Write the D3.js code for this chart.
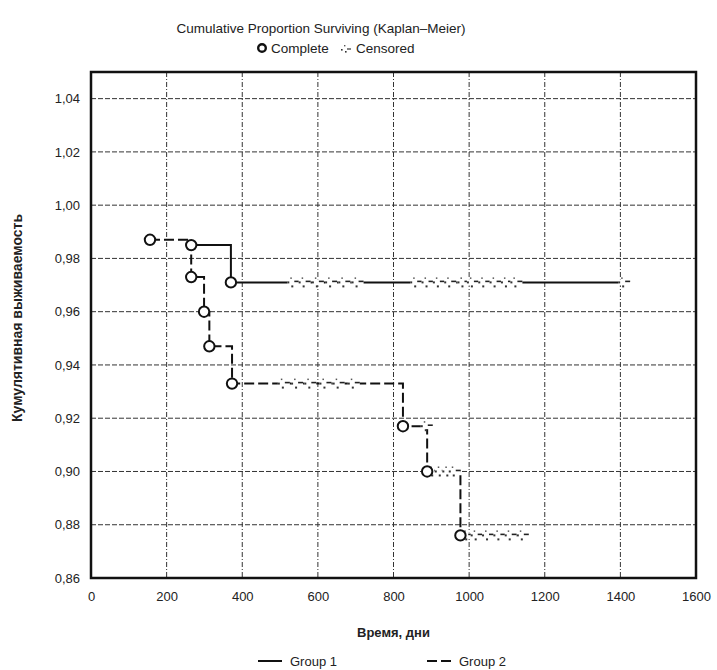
<!DOCTYPE html>
<html>
<head>
<meta charset="utf-8">
<script src="https://cdn.jsdelivr.net/npm/d3@7"></script>
<style>
body{margin:0;background:#fff;}
text{font-family:"Liberation Sans",Arial,sans-serif;fill:#222;}
</style>
</head>
<body>
<div id="chart"></div>
<script>
// x ticks / y ticks
var xTicks = [0, 200, 400, 600, 800, 1000, 1200, 1400, 1600];
var yTicks = [0.86, 0.88, 0.90, 0.92, 0.94, 0.96, 0.98, 1.00, 1.02, 1.04];

// Group 1 (solid)
var g1EventTimes = [265, 370];
var g1Survival = [0.985, 0.971];
var g1EndTime = 1410;
var g1Censored = [535, 565, 600, 635, 670, 705, 860, 890, 920, 950, 985, 1010, 1040, 1070, 1100, 1125, 1410];

// Group 2 (dashed)
var g2EventTimes = [156, 265, 299, 313, 373, 825, 889, 977];
var g2Survival = [0.987, 0.973, 0.960, 0.947, 0.933, 0.917, 0.900, 0.876];
var g2EndTime = 1145;
var g2Censored = [510, 545, 580, 620, 655, 695, 888, 905, 925, 945, 962, 995, 1020, 1050, 1080, 1110, 1142];

var width = 717, height = 670;
var pLeft = 91, pRight = 696, pTop = 72, pBottom = 578;

var svg = d3.select("#chart").append("svg")
    .attr("width", width).attr("height", height);

var x = d3.scaleLinear().domain([0, 1600]).range([pLeft, pRight]);
var y = d3.scaleLinear().domain([0.86, 1.05]).range([pBottom, pTop]);

// gridlines
svg.selectAll(".vgrid").data(xTicks.slice(1, -1)).enter().append("line")
    .attr("x1", d => x(d)).attr("x2", d => x(d))
    .attr("y1", pTop).attr("y2", pBottom)
    .attr("stroke", "#333").attr("stroke-width", 1)
    .attr("stroke-dasharray", "5,2,1,2");
svg.selectAll(".hgrid").data(yTicks.slice(1)).enter().append("line")
    .attr("x1", pLeft).attr("x2", pRight)
    .attr("y1", d => y(d)).attr("y2", d => y(d))
    .attr("stroke", "#333").attr("stroke-width", 1)
    .attr("stroke-dasharray", "5,2");

// axes (labels only, frame drawn below)
var xAxis = d3.axisBottom(x).tickValues(xTicks).tickSize(0).tickPadding(14)
    .tickFormat(d3.format("d"));
svg.append("g").attr("transform", "translate(0," + pBottom + ")").call(xAxis)
    .call(g => g.select(".domain").remove())
    .selectAll("text").style("font-size", "13px").attr("fill", "#222")
    .style("font-family", "Liberation Sans, Arial, sans-serif");

var yAxis = d3.axisLeft(y).tickValues(yTicks).tickSize(0).tickPadding(11)
    .tickFormat(d => d3.format(".2f")(d).replace(".", ","));
svg.append("g").attr("transform", "translate(" + pLeft + ",0)").call(yAxis)
    .call(g => g.select(".domain").remove())
    .selectAll("text").style("font-size", "13px").attr("fill", "#222")
    .style("font-family", "Liberation Sans, Arial, sans-serif");

// step path builder
function stepPoints(times, surv, end){
    var pts = [];
    for (var i = 0; i < times.length; i++){
        if (i > 0) pts.push([times[i], surv[i-1]]);
        pts.push([times[i], surv[i]]);
    }
    pts.push([end, surv[surv.length-1]]);
    return pts;
}
function survAt(times, surv, t){
    var s = surv[0];
    for (var i = 0; i < times.length; i++){ if (times[i] <= t) s = surv[i]; }
    return s;
}

var line = d3.line().x(d => x(d[0])).y(d => y(d[1]));

var groups = [
    {times: g1EventTimes, surv: g1Survival, end: g1EndTime, cens: g1Censored, dash: null},
    {times: g2EventTimes, surv: g2Survival, end: g2EndTime, cens: g2Censored, dash: "10,4"}
];

groups.forEach(function(g){
    svg.append("path")
        .attr("d", line(stepPoints(g.times, g.surv, g.end)))
        .attr("fill", "none").attr("stroke", "#111").attr("stroke-width", 2)
        .attr("stroke-dasharray", g.dash);
});

// censored marks
function censMark(sel, cx, cy){
    var m = sel.append("g").attr("transform", "translate(" + cx + "," + cy + ")");
    m.append("rect").attr("x", -6).attr("y", -3).attr("width", 12).attr("height", 6).attr("fill", "#fff");
    m.append("rect").attr("x", -6).attr("y", -1).attr("width", 2).attr("height", 2).attr("fill", "#333");
    m.append("rect").attr("x", -3).attr("y", -5).attr("width", 1.5).attr("height", 1.5).attr("fill", "#555");
    m.append("rect").attr("x", -2).attr("y", 3).attr("width", 2).attr("height", 2).attr("fill", "#333");
    m.append("line").attr("x1", 1).attr("x2", 6).attr("y1", -1).attr("y2", -1)
        .attr("stroke", "#222").attr("stroke-width", 1.6);
}
groups.forEach(function(g){
    g.cens.forEach(function(t){
        censMark(svg, x(t), y(survAt(g.times, g.surv, t)));
    });
});

// complete (event) circles
groups.forEach(function(g){
    svg.selectAll(null).data(g.times).enter().append("circle")
        .attr("cx", d => x(d))
        .attr("cy", (d, i) => y(g.surv[i]))
        .attr("r", 5.2)
        .attr("fill", "#fff").attr("stroke", "#111").attr("stroke-width", 2);
});

// frame
svg.append("rect").attr("x", pLeft).attr("y", pTop)
    .attr("width", pRight - pLeft).attr("height", pBottom - pTop)
    .attr("fill", "none").attr("stroke", "#111").attr("stroke-width", 2.5);

// title + top legend
svg.append("text").attr("x", 321).attr("y", 33).attr("text-anchor", "middle")
    .style("font-size", "13.5px").text("Cumulative Proportion Surviving (Kaplan\u2013Meier)");
svg.append("circle").attr("cx", 262).attr("cy", 48).attr("r", 3.8)
    .attr("fill", "#fff").attr("stroke", "#111").attr("stroke-width", 2.4);
svg.append("text").attr("x", 271).attr("y", 53).style("font-size", "13.5px").text("Complete");
var lg = svg.append("g").attr("transform", "translate(346,48)");
lg.append("rect").attr("x", -5).attr("y", 1).attr("width", 1.6).attr("height", 1.6).attr("fill", "#333");
lg.append("rect").attr("x", -2).attr("y", -3).attr("width", 1.4).attr("height", 1.4).attr("fill", "#555");
lg.append("rect").attr("x", -1).attr("y", 3).attr("width", 1.6).attr("height", 1.6).attr("fill", "#333");
lg.append("line").attr("x1", 1).attr("x2", 5).attr("y1", 1).attr("y2", 1).attr("stroke", "#333").attr("stroke-width", 1.2);
svg.append("text").attr("x", 356).attr("y", 53).style("font-size", "13.5px").text("Censored");

// axis titles
svg.append("text").attr("x", (pLeft + pRight) / 2).attr("y", 637).attr("text-anchor", "middle")
    .style("font-size", "13px").style("font-weight", "bold").text("Время, дни");
svg.append("text").attr("transform", "translate(22,318) rotate(-90)")
    .attr("text-anchor", "middle")
    .style("font-size", "14px").style("font-weight", "bold").text("Кумулятивная выживаемость");

// bottom legend
var legItems = [{name: "Group 1", dash: null, x: 258}, {name: "Group 2", dash: "10,4", x: 427}];
legItems.forEach(function(d){
    svg.append("line").attr("x1", d.x).attr("x2", d.x + 24).attr("y1", 661).attr("y2", 661)
        .attr("stroke", "#111").attr("stroke-width", 2).attr("stroke-dasharray", d.dash);
    svg.append("text").attr("x", d.x + 32).attr("y", 666).style("font-size", "13px").text(d.name);
});
</script>
</body>
</html>
